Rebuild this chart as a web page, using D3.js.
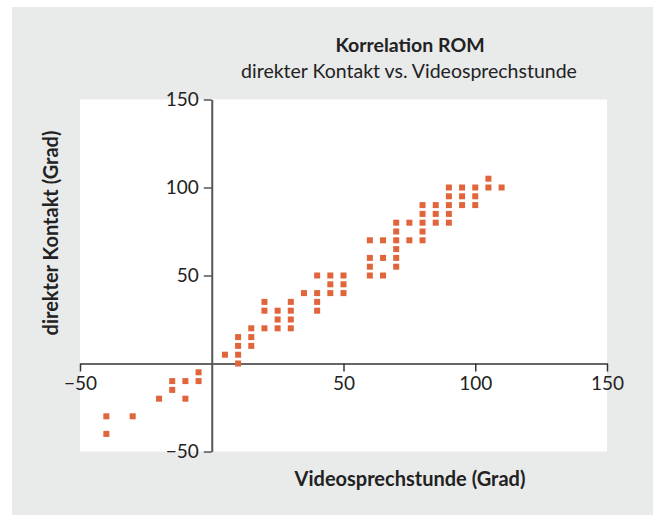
<!DOCTYPE html>
<html>
<head>
<meta charset="utf-8">
<script src="https://cdn.jsdelivr.net/npm/d3@7"></script>
<style>
  html, body { margin: 0; padding: 0; background: #ffffff; }
  svg { display: block; }
  text { font-family: Lato, "Open Sans", sans-serif; fill: #222; }
</style>
</head>
<body>
<svg id="chart" width="655" height="515"></svg>
<script>
// ---- Data ----
const titleText = "Korrelation ROM";
const subtitleText = "direkter Kontakt vs. Videosprechstunde";
const xLabel = "Videosprechstunde (Grad)";
const yLabel = "direkter Kontakt (Grad)";
const xTicks = [-50, 50, 100, 150];
const yTicks = [-50, 50, 100, 150];
// Videosprechstunde (x) values
const videoValues = [
  -40, -40, -30, -20, -15, -15, -10, -10, -5, -5,
  5, 10, 10, 10, 10, 15, 15, 15, 20, 20, 20, 25, 25, 25, 30, 30, 30, 30,
  35, 40, 40, 40, 40, 45, 45, 45, 50, 50, 50,
  60, 60, 60, 60, 65, 65, 65, 70, 70, 70, 70, 70, 70, 75, 75,
  80, 80, 80, 80, 80, 85, 85, 85, 90, 90, 90, 90, 90,
  95, 95, 95, 100, 100, 100, 105, 105, 110
];
// direkter Kontakt (y) values
const direktValues = [
  -30, -40, -30, -20, -10, -15, -10, -20, -5, -10,
  5, 0, 5, 10, 15, 10, 15, 20, 20, 30, 35, 20, 25, 30, 20, 25, 30, 35,
  40, 30, 35, 40, 50, 40, 45, 50, 40, 45, 50,
  50, 55, 60, 70, 50, 60, 70, 55, 60, 65, 70, 75, 80, 70, 80,
  70, 75, 80, 85, 90, 80, 85, 90, 80, 85, 90, 95, 100,
  90, 95, 100, 90, 95, 100, 100, 105, 100
];
const points = videoValues.map((v, i) => ({ x: v, y: direktValues[i] }));

// ---- Layout ----
const svg = d3.select("#chart");
const x = d3.scaleLinear().domain([-50, 150]).range([80, 607]);
const y = d3.scaleLinear().domain([-50, 150]).range([451.5, 99.5]);
const fmt = d => (d < 0 ? "\u2212" + Math.abs(d) : String(d));

// gray panel
svg.append("rect").attr("x", 12).attr("y", 7).attr("width", 641).attr("height", 508)
  .attr("fill", "#e9eaea");
// white plot area
svg.append("rect").attr("x", x(-50)).attr("y", y(150))
  .attr("width", x(150) - x(-50)).attr("height", y(-50) - y(150))
  .attr("fill", "#ffffff");

// titles
svg.append("text").attr("x", 410).attr("y", 52).attr("text-anchor", "middle")
  .attr("font-size", 19.5).attr("font-weight", "bold").text(titleText);
svg.append("text").attr("x", 409).attr("y", 78).attr("text-anchor", "middle")
  .attr("font-size", 19.5).text(subtitleText);

// x axis (through y = 0)
const xAxis = svg.append("g").attr("transform", `translate(0,${y(0)})`)
  .call(d3.axisBottom(x).tickValues(xTicks).tickSize(8).tickSizeOuter(0).tickPadding(5).tickFormat(fmt));
xAxis.select(".domain").attr("stroke", "#333").attr("stroke-width", 1.5);
xAxis.selectAll(".tick line").attr("stroke", "#333").attr("stroke-width", 1.5);
xAxis.selectAll(".tick text").attr("font-size", 19).attr("font-family", "Lato, sans-serif").attr("fill", "#222");

// y axis (through x = 0)
const yAxis = svg.append("g").attr("transform", `translate(${x(0)},0)`)
  .call(d3.axisLeft(y).tickValues(yTicks).tickSize(8).tickSizeOuter(0).tickPadding(5).tickFormat(fmt));
yAxis.select(".domain").attr("stroke", "#555").attr("stroke-width", 2);
yAxis.selectAll(".tick line").attr("stroke", "#555").attr("stroke-width", 1.5);
yAxis.selectAll(".tick text").attr("font-size", 19).attr("font-family", "Lato, sans-serif").attr("fill", "#222");

// points
const s = 6;
svg.append("g").selectAll("rect").data(points).join("rect")
  .attr("x", d => x(d.x) - s / 2).attr("y", d => y(d.y) - s / 2)
  .attr("width", s).attr("height", s).attr("fill", "#e0653a");

// axis labels
svg.append("text").attr("x", 410).attr("y", 486).attr("text-anchor", "middle")
  .attr("font-size", 20).attr("font-weight", "bold").text(xLabel);
svg.append("text").attr("transform", `translate(58,233) rotate(-90)`).attr("text-anchor", "middle")
  .attr("font-size", 20).attr("font-weight", "bold").text(yLabel);
</script>
</body>
</html>
